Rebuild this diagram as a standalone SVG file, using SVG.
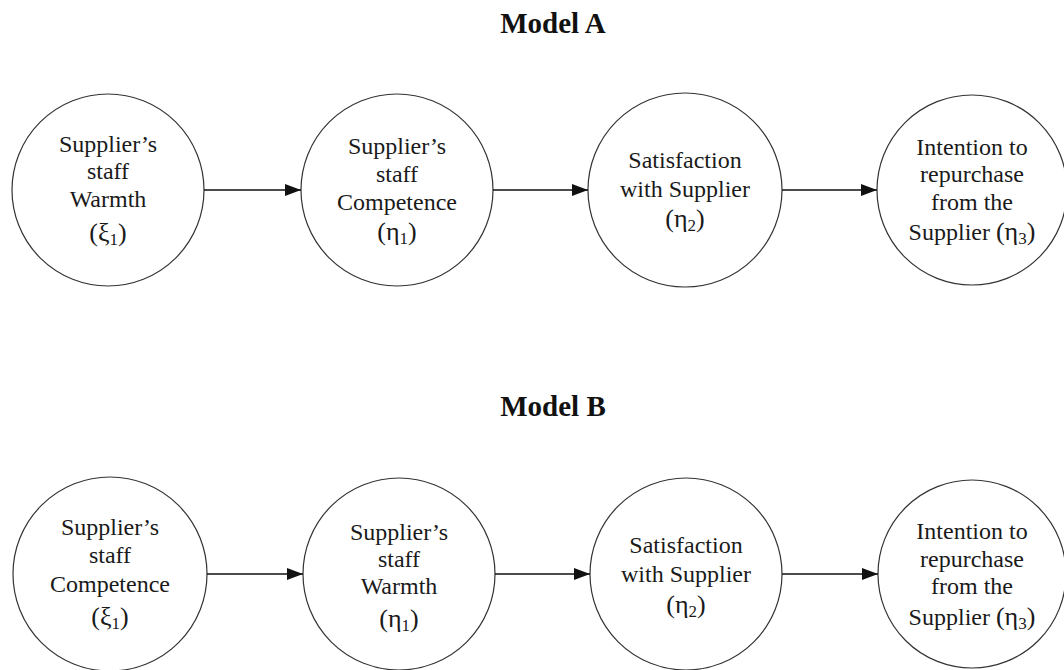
<svg xmlns="http://www.w3.org/2000/svg" width="1064" height="670" viewBox="0 0 1064 670">
  <style>
    .node circle { fill: #ffffff; stroke: #333333; stroke-width: 1.2; }
    .lbl { font-family: "Liberation Serif", "Times New Roman", serif; font-size: 24px; fill: #1a1a1a; text-anchor: middle; }
    .sym { font-size: 26px; }
    .sub { font-size: 17px; }
    .title { font-family: "Liberation Serif", "Times New Roman", serif; font-size: 29px; font-weight: bold; fill: #111111; text-anchor: middle; }
    .edge { stroke: #111111; stroke-width: 1.4; fill: none; marker-end: url(#arrow); }
  </style>
  <defs>
    <marker id="arrow" viewBox="0 0 16 12" refX="16" refY="6" markerWidth="16" markerHeight="12" markerUnits="userSpaceOnUse" orient="auto">
      <path d="M0,0 L16,6 L0,12 Z" fill="#111111"/>
    </marker>
  </defs>
  <rect width="1064" height="670" fill="#ffffff"/>

  <!-- Model A -->
  <text class="title" x="553" y="33">Model A</text>

  <g id="a-warmth" class="node">
    <circle cx="108" cy="190" r="96"/>
    <text class="lbl" x="108" y="152">Supplier’s</text>
    <text class="lbl" x="108" y="179">staff</text>
    <text class="lbl" x="108" y="207">Warmth</text>
    <text class="lbl sym" x="108" y="241">(ξ<tspan class="sub" dy="4">1</tspan><tspan dy="-4">)</tspan></text>
  </g>
  <g id="a-competence" class="node">
    <circle cx="397" cy="190" r="96"/>
    <text class="lbl" x="397" y="154">Supplier’s</text>
    <text class="lbl" x="397" y="182">staff</text>
    <text class="lbl" x="397" y="210">Competence</text>
    <text class="lbl sym" x="397" y="240">(η<tspan class="sub" dy="4">1</tspan><tspan dy="-4">)</tspan></text>
  </g>
  <g id="a-satisfaction" class="node">
    <circle cx="685" cy="190" r="97"/>
    <text class="lbl" x="685" y="168">Satisfaction</text>
    <text class="lbl" x="685" y="197">with Supplier</text>
    <text class="lbl sym" x="685" y="227">(η<tspan class="sub" dy="4">2</tspan><tspan dy="-4">)</tspan></text>
  </g>
  <g id="a-intention" class="node">
    <circle cx="972" cy="190" r="95"/>
    <text class="lbl" x="972" y="155">Intention to</text>
    <text class="lbl" x="972" y="182">repurchase</text>
    <text class="lbl" x="972" y="210">from the</text>
    <text class="lbl" x="972" y="240">Supplier <tspan class="sym">(η</tspan><tspan class="sub" dy="4">3</tspan><tspan class="sym" dy="-4">)</tspan></text>
  </g>

  <!-- Model B -->
  <text class="title" x="553" y="416">Model B</text>

  <g id="b-competence" class="node">
    <circle cx="110" cy="574" r="97"/>
    <text class="lbl" x="110" y="535">Supplier’s</text>
    <text class="lbl" x="110" y="563">staff</text>
    <text class="lbl" x="110" y="592">Competence</text>
    <text class="lbl sym" x="110" y="625">(ξ<tspan class="sub" dy="4">1</tspan><tspan dy="-4">)</tspan></text>
  </g>
  <g id="b-warmth" class="node">
    <circle cx="399" cy="574" r="96"/>
    <text class="lbl" x="399" y="540">Supplier’s</text>
    <text class="lbl" x="399" y="567">staff</text>
    <text class="lbl" x="399" y="594">Warmth</text>
    <text class="lbl sym" x="399" y="627">(η<tspan class="sub" dy="4">1</tspan><tspan dy="-4">)</tspan></text>
  </g>
  <g id="b-satisfaction" class="node">
    <circle cx="686" cy="574" r="96"/>
    <text class="lbl" x="686" y="553">Satisfaction</text>
    <text class="lbl" x="686" y="582">with Supplier</text>
    <text class="lbl sym" x="686" y="613">(η<tspan class="sub" dy="4">2</tspan><tspan dy="-4">)</tspan></text>
  </g>
  <g id="b-intention" class="node">
    <circle cx="972" cy="574" r="94"/>
    <text class="lbl" x="972" y="539">Intention to</text>
    <text class="lbl" x="972" y="567">repurchase</text>
    <text class="lbl" x="972" y="594">from the</text>
    <text class="lbl" x="972" y="625">Supplier <tspan class="sym">(η</tspan><tspan class="sub" dy="4">3</tspan><tspan class="sym" dy="-4">)</tspan></text>
  </g>

  <!-- connectors -->
  <g id="connectors">
    <line class="edge" x1="204" y1="190" x2="301" y2="190"/>
    <line class="edge" x1="493" y1="190" x2="588" y2="190"/>
    <line class="edge" x1="782" y1="190" x2="877" y2="190"/>
    <line class="edge" x1="207" y1="574" x2="303" y2="574"/>
    <line class="edge" x1="495" y1="574" x2="590" y2="574"/>
    <line class="edge" x1="782" y1="574" x2="878" y2="574"/>
  </g>
</svg>
